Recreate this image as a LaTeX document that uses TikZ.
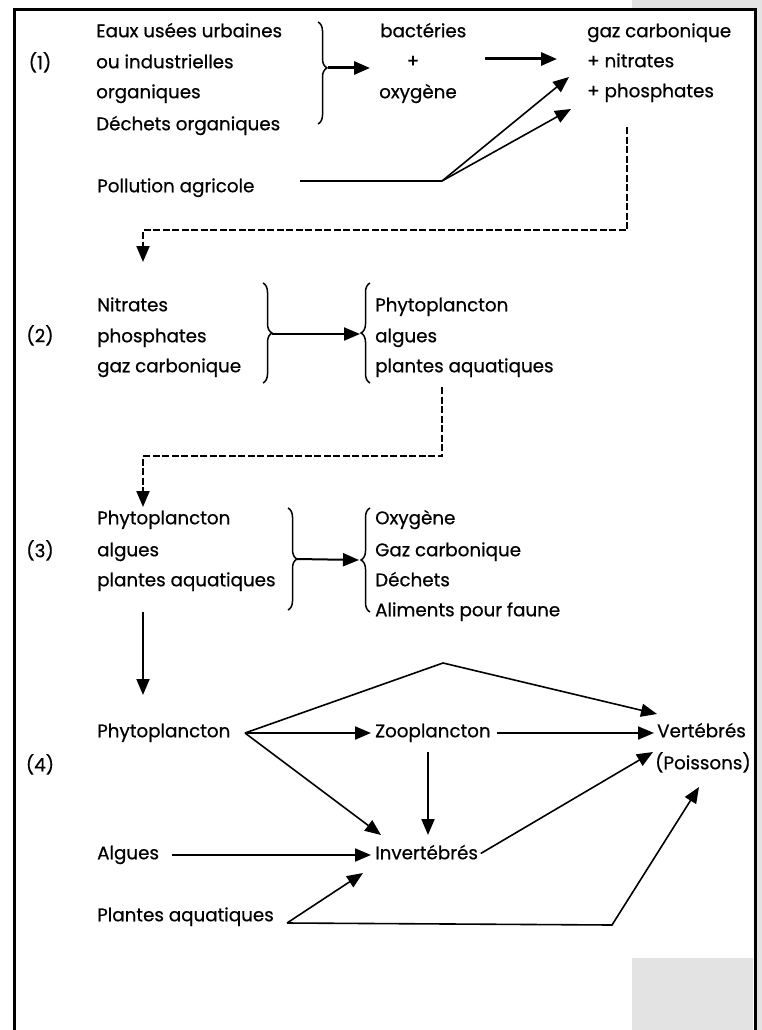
\documentclass[tikz,border=0pt]{standalone}
\usepackage{fontspec}
\setmainfont{Poppins}[FakeBold=0.6]
\usetikzlibrary{arrows.meta,decorations.pathreplacing}
\definecolor{pagegray}{HTML}{E3E3E3}
\begin{document}
\begin{tikzpicture}[x=1pt,y=-1pt,
  lbl/.style={anchor=west,inner sep=0pt,text height=0.85em,text depth=0pt,font=\fontsize{18.3}{21}\selectfont},
  num/.style={lbl,anchor=center},
  arr/.style={line width=2pt,-{Triangle[length=16pt,width=13pt]}},
  thinarr/.style={line width=1.6pt,-{Triangle[length=16pt,width=13pt]}},
  plain/.style={line width=1.8pt},
  dashline/.style={line width=2pt,dash pattern=on 7pt off 2.5pt},
  brc/.style={decorate,decoration={brace,amplitude=9pt},line width=1.5pt},
]
\useasboundingbox (0,0) rectangle (762,1030);
\fill[pagegray] (632,0) rectangle (762,9);
\fill[pagegray] (757,0) rectangle (762,1030);
\fill[pagegray] (632,958) rectangle (753,1030);
\draw[line width=3pt] (14,1040) -- (14,10) -- (755,10) -- (755,1040);

% ---------- (1)
\node[num] (n1) at (40,65) {(1)};
\node[lbl] (e1) at (96,33) {Eaux usées urbaines};
\node[lbl] (e2) at (96,64) {ou industrielles};
\node[lbl] (e3) at (96,94) {organiques};
\node[lbl] (e4) at (96,126) {Déchets organiques};
\coordinate (b1t) at (318,22);
\coordinate (b1b) at (318,124);
\draw[brc,decoration={aspect=0.45}] (b1t) -- (b1b);
\coordinate (b1tip) at (328,68);
\coordinate (a1e) at (370,68);
\draw[arr,line width=3pt] (b1tip) -- (a1e);
\node[lbl] (bact) at (380,33) {bactéries};
\node[num] (plus) at (413,63) {+};
\node[lbl] (oxy) at (379,94) {oxygène};
\coordinate (a2s) at (485,59);
\coordinate (a2e) at (557,59);
\draw[arr,line width=3pt] (a2s) -- (a2e);
\node[lbl] (gaz) at (587,33) {gaz carbonique};
\node[lbl] (nit) at (587,63) {+ nitrates};
\node[lbl] (pho) at (587,93) {+ phosphates};
\node[lbl] (poll) at (97,188) {Pollution agricole};
\coordinate (p0) at (300,181);
\coordinate (J1) at (442,181);
\coordinate (t1) at (569,77);
\coordinate (t2) at (571,109);
\draw[plain] (p0) -- (J1);
\draw[thinarr] (J1) -- (t1);
\draw[thinarr] (J1) -- (t2);
\coordinate (d1s) at (627,127);
\coordinate (d1e) at (143,262);
\draw[dashline,-{Triangle[length=16pt,width=13pt]}] (d1s) -- (627,230) -- (143,230) -- (d1e);

% ---------- (2)
\node[num] (n2) at (40,338) {(2)};
\node[lbl] (f1) at (97,307) {Nitrates};
\node[lbl] (f2) at (97,338) {phosphates};
\node[lbl] (f3) at (97,368) {gaz carbonique};
\coordinate (b2t) at (263,283);
\coordinate (b2b) at (263,383);
\draw[brc] (b2t) -- (b2b);
\coordinate (b2tip) at (272,334);
\coordinate (b3t) at (370,283);
\coordinate (b3b) at (370,383);
\draw[brc] (b3b) -- (b3t);
\coordinate (b3tip) at (360,334);
\draw[arr] (b2tip) -- (b3tip);
\node[lbl] (g1) at (375,307) {Phytoplancton};
\node[lbl] (g2) at (375,338) {algues};
\node[lbl] (g3) at (375,368) {plantes aquatiques};
\coordinate (d2s) at (442,387);
\coordinate (d2e) at (143,507);
\draw[dashline,-{Triangle[length=16pt,width=13pt]}] (d2s) -- (442,456) -- (143,456) -- (d2e);

% ---------- (3)
\node[num] (n3) at (40,553) {(3)};
\node[lbl] (h1) at (97,520) {Phytoplancton};
\node[lbl] (h2) at (97,552) {algues};
\node[lbl] (h3) at (97,582) {plantes aquatiques};
\coordinate (b4t) at (288,508);
\coordinate (b4b) at (288,610);
\draw[brc] (b4t) -- (b4b);
\coordinate (b4tip) at (297,559);
\coordinate (b5t) at (370,508);
\coordinate (b5b) at (370,612);
\draw[brc] (b5b) -- (b5t);
\coordinate (b5tip) at (359,560);
\draw[arr] (b4tip) -- (b5tip);
\node[lbl] (k1) at (375,520) {Oxygène};
\node[lbl] (k2) at (375,552) {Gaz carbonique};
\node[lbl] (k3) at (375,582) {Déchets};
\node[lbl] (k4) at (375,612) {Aliments pour faune};
\coordinate (a3s) at (143,612);
\coordinate (a3e) at (143,695);
\draw[arr] (a3s) -- (a3e);

% ---------- (4)
\node[num] (n4) at (40,767) {(4)};
\node[lbl] (phy) at (97,733) {Phytoplancton};
\node[lbl] (zoo) at (375,733) {Zooplancton};
\node[lbl] (ver) at (657,733) {Vertébrés};
\node[lbl] (poi) at (655,765) {(Poissons)};
\node[lbl] (inv) at (375,855) {Invertébrés};
\node[lbl] (alg) at (97,855) {Algues};
\node[lbl] (pla) at (97,917) {Plantes aquatiques};
\coordinate (J4) at (245,733);
\coordinate (apex) at (443,663);
\coordinate (vt1) at (657,714);
\coordinate (vt2) at (653,752);
\coordinate (vt3) at (699,787);
\coordinate (it1) at (381,835);
\coordinate (it2) at (363,873);
\coordinate (J5) at (287,923);
\coordinate (bend) at (612,925);
\draw[thinarr] (J4) -- (apex) -- (vt1);
\draw[arr,shorten >=4pt] (J4) -- (zoo.west);
\draw[thinarr] (J4) -- (it1);
\draw[arr,shorten <=6pt,shorten >=3pt] (zoo.east) -- (ver.west);
\draw[arr] (428,752) -- (428,835);
\draw[thinarr,shorten <=3pt] (inv.east) -- (vt2);
\draw[arr,shorten <=13pt,shorten >=4pt] (alg.east) -- (inv.west);
\draw[thinarr] (J5) -- (it2);
\draw[thinarr] (J5) -- (bend) -- (vt3);
\end{tikzpicture}
\end{document}
